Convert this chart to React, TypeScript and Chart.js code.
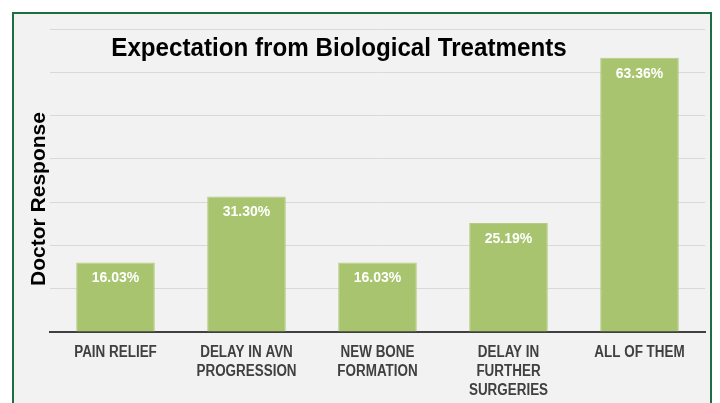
import React, { useEffect, useRef } from "react";
import { Chart, registerables } from "chart.js";

Chart.register(...registerables);

const categories: string[][] = [
  ["PAIN RELIEF"],
  ["DELAY IN AVN", "PROGRESSION"],
  ["NEW BONE", "FORMATION"],
  ["DELAY IN", "FURTHER", "SURGERIES"],
  ["ALL OF THEM"],
];
const responses: number[] = [16.03, 31.3, 16.03, 25.19, 63.36];
const chartTitle = "Expectation from Biological Treatments";
const yTitle = "Doctor Response";

const SANS = "'Liberation Sans', Arial, sans-serif";

function narrowText(ctx: any, text: string, x: number, y: number, sx: number) {
  ctx.save();
  ctx.translate(x, y);
  ctx.scale(sx, 1);
  ctx.fillText(text, 0, 0);
  ctx.restore();
}

const framePlugin = {
  id: "frame",
  beforeDraw(chart: any) {
    const ctx = chart.ctx;
    ctx.save();
    ctx.fillStyle = "#ffffff";
    ctx.fillRect(0, 0, chart.width, chart.height);
    ctx.fillStyle = "#f2f2f2";
    ctx.fillRect(13, 13, 698, chart.height - 13);
    ctx.strokeStyle = "#1d6f43";
    ctx.lineWidth = 2;
    ctx.beginPath();
    ctx.moveTo(13, chart.height + 5);
    ctx.lineTo(13, 13);
    ctx.lineTo(711, 13);
    ctx.lineTo(711, chart.height + 5);
    ctx.stroke();
    ctx.restore();
  },
  afterDatasetsDraw(chart: any) {
    const ctx = chart.ctx;
    const meta = chart.getDatasetMeta(0);
    ctx.save();
    ctx.fillStyle = "#ffffff";
    ctx.font = `bold 14px ${SANS}`;
    ctx.textAlign = "center";
    ctx.textBaseline = "middle";
    meta.data.forEach((bar: any, i: number) => {
      ctx.fillText(responses[i].toFixed(2) + "%", bar.x, bar.y + 16);
    });
    ctx.restore();
  },
  afterDraw(chart: any) {
    const ctx = chart.ctx;
    const xs = chart.scales.x;
    ctx.save();
    ctx.textAlign = "center";
    ctx.textBaseline = "middle";
    // category labels
    ctx.fillStyle = "#404040";
    ctx.font = `bold 16px ${SANS}`;
    categories.forEach((lines, i) => {
      const x = xs.getPixelForValue(i);
      lines.forEach((ln, j) => {
        narrowText(ctx, ln, x, xs.top + 21 + j * 19, 0.84);
      });
    });
    // title
    ctx.fillStyle = "#000000";
    ctx.font = `bold 26px ${SANS}`;
    narrowText(ctx, chartTitle, 339, 49, 0.93);
    // y title
    ctx.translate(39, 199);
    ctx.rotate(-Math.PI / 2);
    ctx.font = `bold 21px ${SANS}`;
    ctx.fillText(yTitle, 0, 0);
    ctx.restore();
  },
};

export default function App() {
  const ref = useRef<HTMLCanvasElement | null>(null);
  useEffect(() => {
    if (!ref.current) return;
    const chart = new Chart(ref.current, {
      type: "bar",
      data: {
        labels: categories,
        datasets: [
          {
            data: responses,
            backgroundColor: "#a8c46e",
            borderColor: "#b4cd80",
            borderWidth: 1,
            categoryPercentage: 1,
            barPercentage: 0.6,
          },
        ],
      },
      options: {
        responsive: false,
        animation: false,
        events: [],
        layout: { padding: { left: 50, right: 15, top: 29, bottom: 0 } },
        plugins: {
          legend: { display: false },
          title: { display: false },
          tooltip: { enabled: false },
        },
        scales: {
          x: {
            grid: { display: false, drawTicks: false },
            border: { display: true, color: "#404040", width: 2 },
            ticks: { display: false },
            afterFit: (s: any) => {
              s.height = 71;
            },
          },
          y: {
            min: 0,
            max: 70,
            ticks: { display: false, stepSize: 10 },
            grid: { color: "#d9d9d9", lineWidth: 1, drawTicks: false },
            border: { display: false },
            afterFit: (s: any) => {
              s.width = 0;
            },
          },
        },
      },
      plugins: [framePlugin],
    });
    return () => chart.destroy();
  }, []);
  return (
    <canvas
      ref={ref}
      width={720}
      height={403}
      style={{ position: "fixed", left: 0, top: 0, width: 720, height: 403 }}
    />
  );
}
